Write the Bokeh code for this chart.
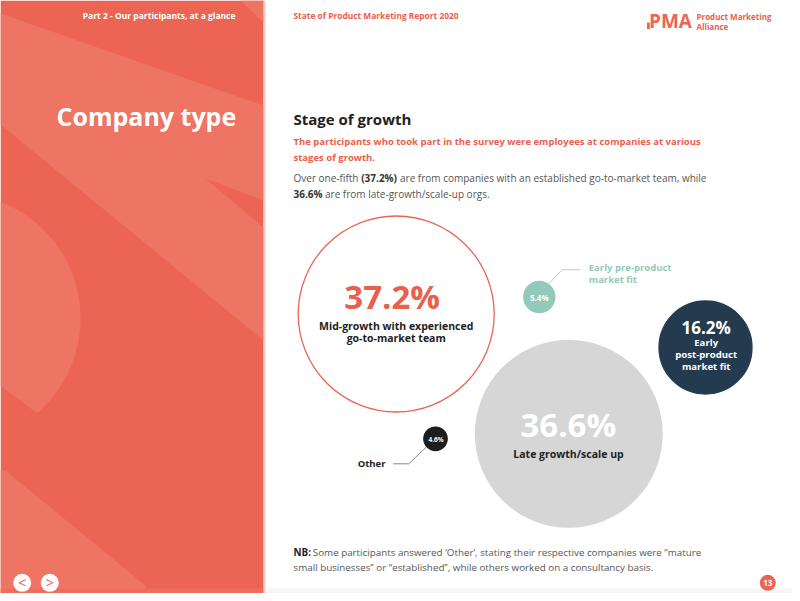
from bokeh.plotting import figure
from bokeh.models import Range1d, ColumnDataSource
from bokeh.core.properties import value
from bokeh.embed import file_html
from bokeh.resources import INLINE
import numpy as np

# ---------------- data ----------------
categories = ["Mid-growth with experienced go-to-market team",
              "Late growth/scale up",
              "Early post-product market fit",
              "Early pre-product market fit",
              "Other"]
shares = [37.2, 36.6, 16.2, 5.4, 4.6]

# ---------------- layout (pixel coordinates of the page) ----------------
cx = [395.7, 568.3, 705.0, 538.8, 435.0]
cy = [313.5, 433.3, 347.0, 296.5, 438.3]
radii = [98.0, 93.3, 46.5, 15.5, 11.7]
fills = ["#FFFFFF", "#D6D6D6", "#233A4F", "#92C9BA", "#1E1E1E"]
lines = ["#EC6554", "#D6D6D6", "#233A4F", "#92C9BA", "#1E1E1E"]

CORAL = "#EC6554"
CORAL_TXT = "#E9604E"
LIGHT = "#EE7464"
FONT = value("Open Sans")

W, H = 792, 593
p = figure(width=W, height=H, x_range=Range1d(0, W), y_range=Range1d(H, 0),
           output_backend="svg", toolbar_location=None, min_border=0,
           background_fill_color="white", border_fill_color="white")
p.axis.visible = False
p.grid.visible = False
p.outline_line_color = None

# ---------- left panel ----------
p.quad(left=0, right=263, top=0, bottom=601, fill_color=CORAL, line_color=None)
# decorative lighter shapes
p.patch([0, 263, 263, 205, 263, 263, 0], [13, 105, 200, 178, 227, 340, 124],
        fill_color=LIGHT, line_color=None)
p.patch([240, 263, 263], [0, 0, 22], fill_color=LIGHT, line_color=None)
ccx, ccy, cr = -45, 318, 125
th0 = -np.arccos(45 / 125)
ang = np.linspace(th0, np.pi / 2, 200)
px, py = [], []
for a in ang:
    x, y = ccx + cr * np.cos(a), ccy + cr * np.sin(a)
    if y > 385 + 0.79 * x:
        break
    px.append(x)
    py.append(y)
px += [0]
py += [385]
p.patch(px, py, fill_color=LIGHT, line_color=None)
p.patch([0, 5, 145, 150, 0], [470, 470, 585, 601, 601], fill_color=LIGHT, line_color=None)
p.quad(left=0, right=263, top=588, bottom=601, fill_color="#EE6E5E", line_color=None)
p.quad(left=263, right=265, top=0, bottom=601, fill_color="#F6C9C2", line_color=None)
p.quad(left=265, right=800, top=588, bottom=601, fill_color="#F6F6F6", line_color=None)

p.text(x=[235], y=[15], text=["Part 2 - Our participants, at a glance"], text_font=FONT,
       text_font_style="bold", text_font_size="8.5px", text_color="white",
       text_align="right", text_baseline="middle")
p.text(x=[56], y=[115], text=["Company type"], text_font=FONT, text_font_style="bold",
       text_font_size="25px", text_color="white", text_align="left", text_baseline="middle")

# nav buttons
p.circle(x=[21.7, 49.3], y=[582.3, 582.3], radius=9, fill_color="white", line_color=None)
p.text(x=[21.7, 49.3], y=[582.3, 582.3], text=["<", ">"], text_font=FONT,
       text_font_size="14px", text_color=CORAL, text_align="center", text_baseline="middle")

# ---------- header right ----------
p.text(x=[293], y=[15], text=["State of Product Marketing Report 2020"], text_font=FONT,
       text_font_style="bold", text_font_size="8.4px", text_color=CORAL_TXT,
       text_align="left", text_baseline="middle")
p.quad(left=[646.5], right=[649.3], top=[22], bottom=[28.5], fill_color=CORAL, line_color=None)
p.text(x=[648.5], y=[20], text=["PMA"], text_font=FONT, text_font_style="bold",
       text_font_size="19px", text_color=CORAL, text_align="left", text_baseline="middle")
p.text(x=[696, 696], y=[15.5, 25.5], text=["Product Marketing", "Alliance"], text_font=FONT,
       text_font_style="bold", text_font_size="8px", text_color=CORAL_TXT,
       text_align="left", text_baseline="middle")

# ---------- titles ----------
p.text(x=[293], y=[118], text=["Stage of growth"], text_font=FONT, text_font_style="bold",
       text_font_size="15px", text_color="#222222", text_align="left", text_baseline="middle")
p.text(x=[293, 293], y=[141, 156.5],
       text=["The participants who took part in the survey were employees at companies at various",
             "stages of growth."],
       text_font=FONT, text_font_style="bold", text_font_size="9.5px", text_color=CORAL_TXT,
       text_align="left", text_baseline="middle")
body_x = [293, 360.7, 399.5, 293, 324.5]
body_y = [177.5, 177.5, 177.5, 193.3, 193.3]
body_t = ["Over one-fifth", "(%.1f%%)" % shares[0],
          "are from companies with an established go-to-market team, while",
          "%.1f%%" % shares[1], "are from late-growth/scale-up orgs."]
body_b = ["normal", "bold", "normal", "bold", "normal"]
body_c = ["#555555", "#333333", "#555555", "#333333", "#555555"]
p.text(x="x", y="y", text="t", text_font_style="b", text_color="c",
       source=ColumnDataSource(dict(x=body_x, y=body_y, t=body_t, b=body_b, c=body_c)),
       text_font=FONT, text_font_size="10px", text_align="left", text_baseline="middle")

# ---------- bubbles ----------
src = ColumnDataSource(dict(x=cx, y=cy, r=radii, f=fills, l=lines))
p.circle(x="x", y="y", radius="r", fill_color="f", line_color="l", line_width=1.3, source=src)

# leader lines
p.line([548.3, 561.7, 580], [283.3, 269.3, 269.3], line_color="#C8C8C8", line_width=1)
p.line([425.7, 408.3, 392.7], [446.7, 463.3, 463.3], line_color="#8A8A8A", line_width=1)

# big values
p.text(x=[391.7, 567.8], y=[295.5, 423.5], text=["%.1f%%" % shares[0], "%.1f%%" % shares[1]],
       text_font=FONT, text_font_style="bold", text_font_size="33px",
       text_color=[CORAL_TXT, "white"], text_align="center", text_baseline="middle")
p.text(x=[395.7, 395.7, 568.0], y=[325, 337, 453.3],
       text=["Mid-growth with experienced", "go-to-market team", categories[1]],
       text_font=FONT, text_font_style="bold", text_font_size="10.5px",
       text_color="#222222", text_align="center", text_baseline="middle")
p.text(x=[705.7], y=[326.7], text=["%.1f%%" % shares[2]], text_font=FONT, text_font_style="bold",
       text_font_size="17px", text_color="white", text_align="center", text_baseline="middle")
p.text(x=[705.7, 705.7, 705.7], y=[342.3, 354, 365.7], text=["Early", "post-product", "market fit"],
       text_font=FONT, text_font_style="bold", text_font_size="9.6px", text_color="white",
       text_align="center", text_baseline="middle")
p.text(x=[538.8, 435.5], y=[296.8, 438.6], text=["%.1f%%" % shares[3], "%.1f%%" % shares[4]],
       text_font=FONT, text_font_style="bold", text_font_size=["8px", "6.5px"],
       text_color="white", text_align="center", text_baseline="middle")
p.text(x=[588.3, 588.3], y=[267.3, 279], text=["Early pre-product", "market fit"], text_font=FONT,
       text_font_style="bold", text_font_size="9.5px", text_color="#92C9BA",
       text_align="left", text_baseline="middle")
p.text(x=[385], y=[462.7], text=[categories[4]], text_font=FONT, text_font_style="bold",
       text_font_size="9.5px", text_color="#222222", text_align="right", text_baseline="middle")

# ---------- footnote ----------
p.text(x=[293], y=[551.7], text=["NB:"], text_font=FONT, text_font_style="bold",
       text_font_size="9.9px", text_color="#222222", text_align="left", text_baseline="middle")
p.text(x=[312.3, 293], y=[551.7, 566.7],
       text=["Some participants answered \u2018Other\u2019, stating their respective companies were \u201cmature",
             "small businesses\u201d or \u201cestablished\u201d, while others worked on a consultancy basis."],
       text_font=FONT, text_font_size="9.8px", text_color="#555555",
       text_align="left", text_baseline="middle")

# page number
p.circle(x=[767.3], y=[582.3], radius=8, fill_color=CORAL, line_color=None)
p.text(x=[767.3], y=[582.6], text=["13"], text_font=FONT, text_font_style="bold",
       text_font_size="8px", text_color="white", text_align="center", text_baseline="middle")

open("out.html", "w").write(file_html(p, INLINE))
